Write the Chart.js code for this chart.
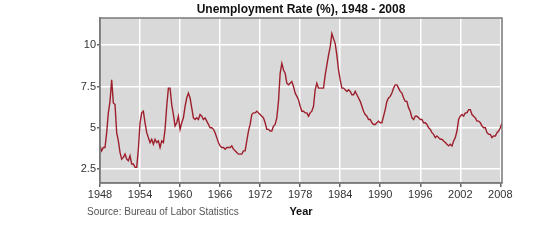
<!DOCTYPE html>
<html>
<head>
<meta charset="utf-8">
<script src="https://cdn.jsdelivr.net/npm/chart.js@4/dist/chart.umd.min.js"></script>
<style>
  html, body { margin: 0; padding: 0; background: #fff; }
  #wrap { width: 552px; height: 248px; }
</style>
</head>
<body>
<div id="wrap"><canvas id="rateChart" width="552" height="248"></canvas></div>
<script>
// ---------- data (quarterly) ----------
const startYear = 1948;
const yearTicks = [1948, 1954, 1960, 1966, 1972, 1978, 1984, 1990, 1996, 2002, 2008];
const rateTicks = [2.5, 5, 7.5, 10];
const unemploymentRate = [
  3.9, 3.6, 3.8, 3.8,   // 1948
  4.7, 5.9, 6.6, 7.9,   // 1949
  6.5, 6.4, 4.7, 4.2,   // 1950
  3.5, 3.1, 3.2, 3.4,   // 1951
  3.1, 3.0, 3.3, 2.8,   // 1952
  2.8, 2.6, 2.6, 3.7,   // 1953
  5.3, 5.9, 6.0, 5.3,   // 1954
  4.7, 4.4, 4.1, 4.3,   // 1955
  4.0, 4.3, 4.1, 4.2,   // 1956
  3.8, 4.2, 4.1, 4.9,   // 1957
  6.3, 7.4, 7.4, 6.4,   // 1958
  5.8, 5.1, 5.3, 5.7,   // 1959
  4.9, 5.3, 5.6, 6.3,   // 1960
  6.8, 7.1, 6.8, 6.2,   // 1961
  5.6, 5.5, 5.6, 5.5,   // 1962
  5.8, 5.7, 5.5, 5.6,   // 1963
  5.4, 5.2, 5.0, 5.0,   // 1964
  4.9, 4.7, 4.4, 4.1,   // 1965
  3.9, 3.8, 3.8, 3.7,   // 1966
  3.8, 3.8, 3.8, 3.9,   // 1967
  3.7, 3.6, 3.5, 3.4,   // 1968
  3.4, 3.4, 3.6, 3.6,   // 1969
  4.2, 4.8, 5.2, 5.8,   // 1970
  5.9, 5.9, 6.0, 5.9,   // 1971
  5.8, 5.7, 5.6, 5.3,   // 1972
  4.9, 4.9, 4.8, 4.8,   // 1973
  5.1, 5.2, 5.6, 6.6,   // 1974
  8.3, 8.9, 8.5, 8.3,   // 1975
  7.7, 7.6, 7.7, 7.8,   // 1976
  7.5, 7.1, 6.9, 6.7,   // 1977
  6.3, 6.0, 6.0, 5.9,   // 1978
  5.9, 5.7, 5.9, 6.0,   // 1979
  6.3, 7.3, 7.7, 7.4,   // 1980
  7.4, 7.4, 7.4, 8.2,   // 1981
  8.8, 9.4, 9.9, 10.7,  // 1982
  10.4, 10.1, 9.4, 8.5, // 1983
  7.9, 7.4, 7.4, 7.3,   // 1984
  7.2, 7.3, 7.2, 7.0,   // 1985
  7.0, 7.2, 7.0, 6.8,   // 1986
  6.6, 6.3, 6.0, 5.8,   // 1987
  5.7, 5.5, 5.5, 5.3,   // 1988
  5.2, 5.2, 5.3, 5.4,   // 1989
  5.3, 5.3, 5.7, 6.1,   // 1990
  6.6, 6.8, 6.9, 7.1,   // 1991
  7.4, 7.6, 7.6, 7.4,   // 1992
  7.2, 7.1, 6.8, 6.6,   // 1993
  6.6, 6.2, 6.0, 5.6,   // 1994
  5.5, 5.7, 5.7, 5.6,   // 1995
  5.5, 5.5, 5.3, 5.3,   // 1996
  5.2, 5.0, 4.9, 4.7,   // 1997
  4.6, 4.4, 4.5, 4.4,   // 1998
  4.3, 4.3, 4.2, 4.1,   // 1999
  4.0, 3.9, 4.0, 3.9,   // 2000
  4.2, 4.4, 4.8, 5.5,   // 2001
  5.7, 5.8, 5.7, 5.9,   // 2002
  5.9, 6.1, 6.1, 5.8,   // 2003
  5.7, 5.6, 5.4, 5.4,   // 2004
  5.3, 5.1, 5.0, 5.0,   // 2005
  4.7, 4.6, 4.6, 4.4,   // 2006
  4.5, 4.5, 4.7, 4.8,   // 2007
  5.0, 5.3              // 2008
];

const points = unemploymentRate.map((v, i) => ({ x: startYear + i / 4, y: v }));

const FONT = 'Arial, "Liberation Sans", sans-serif';

// gray plot background, frame round it, title over the plot, source note
const plotFrame = {
  id: 'plotFrame',
  beforeDraw(chart) {
    const { ctx, chartArea: a } = chart;
    ctx.save();
    ctx.fillStyle = '#d9d9d9';
    ctx.fillRect(a.left, a.top, a.right - a.left, a.bottom - a.top);
    ctx.restore();
  },
  afterDatasetsDraw(chart) {
    const { ctx, chartArea: a } = chart;
    ctx.save();
    ctx.strokeStyle = '#7a7a7a';
    ctx.lineWidth = 1.5;
    ctx.strokeRect(a.left, a.top, a.right - a.left, a.bottom - a.top);

    ctx.fillStyle = '#111';
    ctx.font = 'bold 12px ' + FONT;
    ctx.textAlign = 'center';
    ctx.textBaseline = 'middle';
    ctx.fillText('Unemployment Rate (%), 1948 - 2008', (a.left + a.right) / 2, 9.5);

    ctx.fillStyle = '#555';
    ctx.font = '10px ' + FONT;
    ctx.textAlign = 'left';
    ctx.fillText('Source: Bureau of Labor Statistics', 87, 212);
    ctx.restore();
  }
};

const ctx = document.getElementById('rateChart').getContext('2d');
new Chart(ctx, {
  type: 'line',
  data: {
    datasets: [{
      label: 'Unemployment Rate (%)',
      data: points,
      borderColor: '#9e1f2c',
      borderWidth: 1.4,
      pointRadius: 0,
      tension: 0
    }]
  },
  options: {
    responsive: false,
    animation: false,
    layout: { padding: { left: 0, right: 50, top: 18, bottom: 25 } },
    plugins: {
      legend: { display: false },
      tooltip: { enabled: false },
      title: { display: false }
    },
    scales: {
      x: {
        type: 'linear',
        min: startYear,
        max: 2008.25,
        afterBuildTicks: axis => { axis.ticks = yearTicks.map(v => ({ value: v })); },
        afterFit: axis => { axis.height = 40; },
        ticks: {
          color: '#333',
          padding: 1,
          maxRotation: 0,
          autoSkip: false,
          font: { family: FONT, size: 11 },
          callback: v => String(v)
        },
        grid: { color: '#ffffff', lineWidth: 1.5, tickColor: '#666', tickLength: 4 },
        border: { color: '#7a7a7a', width: 1.5 },
        title: {
          display: true,
          text: 'Year',
          color: '#111',
          font: { family: FONT, size: 11, weight: 'bold' },
          padding: { top: 4, bottom: 4 }
        }
      },
      y: {
        min: 1.65,
        max: 11.65,
        afterBuildTicks: axis => { axis.ticks = rateTicks.map(v => ({ value: v })); },
        afterFit: axis => { axis.width = 100; },
        ticks: {
          color: '#333',
          padding: 1,
          font: { family: FONT, size: 11 },
          callback: v => String(v)
        },
        grid: { color: '#ffffff', lineWidth: 1.5, tickColor: '#666', tickLength: 3 },
        border: { color: '#7a7a7a', width: 1.5 }
      }
    }
  },
  plugins: [plotFrame]
});
</script>
</body>
</html>
